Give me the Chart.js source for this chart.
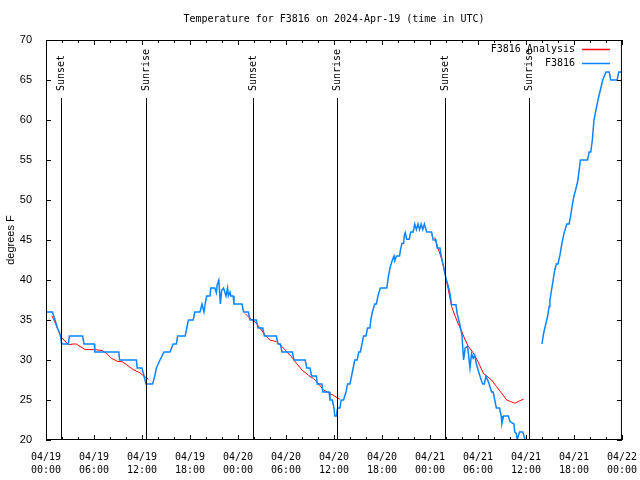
<!DOCTYPE html>
<html>
<head>
<meta charset="utf-8">
<script src="https://cdn.jsdelivr.net/npm/chart.js@4.4.1/dist/chart.umd.min.js"></script>
<style>
  body { margin: 0; background: #fff; }
</style>
</head>
<body>
<canvas id="canvas-chart" width="640" height="480"></canvas>
<script>
// hours since 2024-04-19 00:00 UTC, null = gap
const obsHours = [0, 0.8, 1.0, 1.25, 1.42, 1.67, 1.83, 1.96, 2.8, 2.92, 4.58, 4.75, 6.04, 6.1, 9.1, 9.2, 11.3, 11.4, 12.0, 12.25, 12.5, 13.33,
  13.6, 13.8, 14.25, 14.75, 15.5, 15.9, 16.3, 16.45, 17.4, 17.6, 17.8, 18.4, 18.6, 19.25, 19.5, 19.75, 19.9, 20.08, 20.5, 20.6, 21.1, 21.3, 21.4, 21.6, 21.8, 21.96, 22.2, 22.5, 22.7, 22.8, 23.0, 23.1, 23.4, 23.5,
  24.5, 24.7, 25.3, 25.5, 26.3, 26.5, 27.1, 27.3, 28.8, 29.0, 29.3, 29.5, 30.8, 31.0, 32.4, 32.6, 33.0, 33.2, 33.8, 33.9, 34.5, 34.6, 35.4, 35.5, 35.8, 36.0, 36.1, 36.3,
  36.45, 36.75, 36.9, 37.2, 37.5, 37.7, 38.0, 38.2, 38.4, 38.6, 38.9, 39.1, 39.3, 39.5, 39.7, 40.0, 40.2, 40.5, 40.6, 40.8, 41.1, 41.3, 41.5, 41.8, 42.6, 42.8, 43.0, 43.3, 43.5, 43.6, 43.8, 44.2, 44.3, 44.5, 44.7, 44.8, 44.9, 45.1, 45.4, 45.6, 45.9,
  46.1, 46.3, 46.5, 46.7, 46.9, 47.1, 47.3, 47.5, 47.6, 48.2, 48.4, 48.75, 48.9, 49.25, 49.4, 49.7, 50.0, 50.3, 50.5, 50.7, 51.25, 51.4, 51.7, 52.0, 52.2, 52.4, 52.7, 53.0, 53.2, 53.4, 53.6, 53.8, 54.1, 54.4, 54.6, 54.8, 55.0, 55.2, 55.4, 55.7, 55.9,
  56.1, 56.3, 56.7, 56.9, 57.0, 57.2, 57.8, 58.0, 58.5, 58.6, 58.8, 58.9, 59.2, 59.6, 59.9, 60.0, 61.0,
  62.0, 62.2, 62.5, 62.7, 62.9, 63.0, 63.2, 63.4, 63.6, 63.8, 64.0, 64.25, 64.5, 64.75, 65.1, 65.4, 65.6, 65.8, 66.0, 66.2, 66.5, 66.8, 67.7, 67.9, 68.1, 68.3, 68.5, 68.75, 69.0, 69.3, 69.6, 70.0, 70.4, 70.6, 71.4, 71.6, 72.0];
const obsTemps = [36, 36, 35.4, 34.6, 34, 33.5, 32.9, 32, 32, 33, 33, 32, 32, 31, 31, 30, 30, 29, 29, 28, 27, 27,
  28, 29, 30, 31, 31, 32, 32, 33, 33, 34, 35, 35, 36, 36, 37, 36, 37, 38, 38, 39, 39, 38.4, 39.4, 40, 37, 38.7, 39, 38, 39, 38, 38.5, 38, 38, 37,
  37, 36, 36, 35, 35, 34, 34, 33, 33, 32, 32, 31, 31, 30, 30, 29, 29, 28, 28, 27, 27, 26, 26, 25, 25, 24, 23, 23,
  24, 24, 25, 25, 26, 27, 27, 28, 29, 30, 30, 31, 31, 32, 33, 33, 34, 34, 35, 36, 37, 37, 38, 39, 39, 40.4, 41.5, 42.5, 43, 42.4, 43, 43, 43.7, 44.6, 44.6, 45.6, 45.9, 45.1, 45.1, 46, 46,
  47, 46.3, 47, 46.3, 47, 46.3, 47, 46.3, 46, 46, 45, 45, 44, 44, 43, 41.7, 40.2, 39.2, 38.3, 36.9, 36.9, 35.8, 34.6, 33.1, 30, 31.5, 31.7, 29, 30.8, 30.2, 30.6, 29.5, 28.5, 27.5, 27, 27, 28, 27.5, 27, 26, 26,
  25, 24, 24, 23, 22.1, 23, 23, 22.3, 22, 21, 20.8, 20, 21, 21, 20, 19.5, null,
  32, 33.3, 34.6, 35.4, 36.7, 37.5, 38.75, 40, 41.25, 42, 42, 43.1, 44.6, 45.8, 47, 47, 48.1, 49.4, 50.5, 51.2, 52.5, 55, 55, 56, 56, 57.5, 60, 61.25, 62.5, 63.75, 65, 66, 66, 65, 65, 66, 66];

const anaHours = [0.75, 1.0, 1.25, 1.5, 1.7, 1.96, 2.25, 2.6, 2.9, 3.4, 3.8, 4.25, 4.9, 5.9, 7.0, 7.6, 8.2, 9.0, 9.5, 10.1, 10.9, 11.75, 12.2, 12.8, 18,
  24.9, 25.5, 26.1, 26.75, 27.4, 28.0, 28.8, 29.5, 30.1, 30.7, 31.3, 32.0, 32.8, 33.4, 34.0, 34.7, 35.3, 35.9, 36.7, 42,
  48.6, 49.0, 49.5, 49.9, 50.3, 50.7, 51.1, 51.5, 52.0, 52.4, 52.8, 53.4, 54.0, 54.7, 55.1, 55.7, 56.3, 57.0, 57.6, 58.1, 58.6, 59.2, 59.7];
const anaTemps = [35.5, 35, 34.4, 33.8, 33.3, 32.8, 32.5, 32.1, 31.9, 32, 32, 31.7, 31.3, 31.3, 31.2, 30.8, 30.2, 29.8, 29.8, 29.4, 28.8, 28.4, 28, 27.6, null,
  35.8, 35.2, 34.8, 34, 33.1, 32.5, 32.3, 31.7, 31, 30.4, 29.6, 28.75, 28.1, 27.7, 27.1, 26.25, 25.9, 25.6, 25.1, null,
  45.3, 44, 42.5, 40.6, 38.75, 36.7, 35.6, 34.6, 33.5, 32.5, 31.7, 30.9, 29.8, 28.3, 28, 27.5, 26.7, 25.8, 25, 24.8, 24.6, 24.9, 25.1];

const sunHours = [1.92, 12.54, 25.92, 36.42, 49.92, 60.42];
const sunLabels = ['Sunset', 'Sunrise', 'Sunset', 'Sunrise', 'Sunset', 'Sunrise'];

const tickDays = ['04/19', '04/19', '04/19', '04/19', '04/20', '04/20', '04/20', '04/20', '04/21', '04/21', '04/21', '04/21', '04/22'];
const tickTimes = ['00:00', '06:00', '12:00', '18:00', '00:00', '06:00', '12:00', '18:00', '00:00', '06:00', '12:00', '18:00', '00:00'];

const MONO = '"DejaVu Sans Mono", monospace';
const SANS = '"Liberation Sans", Arial, sans-serif';

function pairs(xs, ys) {
  return xs.map((x, i) => ({ x: x, y: ys[i] }));
}

const gnuplotBits = {
  id: 'gnuplotBits',
  afterDatasetsDraw(chart) {
    const ctx = chart.ctx;
    const a = chart.chartArea;
    const xs = chart.scales.x;
    const ys = chart.scales.y;
    ctx.save();
    ctx.strokeStyle = '#000';
    ctx.lineWidth = 1;

    // sunrise / sunset markers
    ctx.font = '10px ' + MONO;
    ctx.fillStyle = '#000';
    sunHours.forEach((h, i) => {
      const px = Math.round(xs.getPixelForValue(h)) + 0.5;
      ctx.beginPath();
      ctx.moveTo(px, 98);
      ctx.lineTo(px, a.bottom);
      ctx.stroke();
      ctx.save();
      ctx.translate(px, 91);
      ctx.rotate(-Math.PI / 2);
      ctx.textAlign = 'left';
      ctx.textBaseline = 'middle';
      ctx.fillText(sunLabels[i], 0, 0);
      ctx.restore();
    });

    // frame
    ctx.strokeRect(a.left + 0.5, a.top + 0.5, a.right - a.left - 1, a.bottom - a.top - 1);

    // inward ticks, mirrored
    ctx.beginPath();
    for (let h = 0; h <= 72; h += 2) {
      const px = Math.round(xs.getPixelForValue(h)) + 0.5;
      const len = h % 6 === 0 ? 5 : 3;
      ctx.moveTo(px, a.bottom); ctx.lineTo(px, a.bottom - len);
      ctx.moveTo(px, a.top); ctx.lineTo(px, a.top + len);
    }
    for (let v = 20; v <= 70; v += 5) {
      const py = Math.round(ys.getPixelForValue(v)) + 0.5;
      ctx.moveTo(a.left, py); ctx.lineTo(a.left + 5, py);
      ctx.moveTo(a.right, py); ctx.lineTo(a.right - 5, py);
    }
    ctx.stroke();

    // title
    ctx.font = '10px ' + MONO;
    ctx.textAlign = 'center';
    ctx.textBaseline = 'middle';
    ctx.fillText('Temperature for F3816 on 2024-Apr-19 (time in UTC)', (a.left + a.right) / 2, 19);

    // key, gnuplot style: text then line sample
    chart.data.datasets.forEach((ds, i) => {
      const y = 49 + i * 14;
      ctx.textAlign = 'right';
      ctx.fillStyle = '#000';
      ctx.fillText(ds.label, 575, y);
      ctx.strokeStyle = ds.borderColor;
      ctx.lineWidth = 1.5;
      ctx.beginPath();
      ctx.moveTo(582, y + 0.5);
      ctx.lineTo(610, y + 0.5);
      ctx.stroke();
    });
    ctx.restore();
  }
};

const ctx = document.getElementById('canvas-chart');

new Chart(ctx, {
  type: 'line',
  data: {
    datasets: [{
      label: 'F3816 Analysis',
      data: pairs(anaHours, anaTemps),
      borderColor: '#ff0000',
      borderWidth: 1,
      order: 1
    }, {
      label: 'F3816',
      data: pairs(obsHours, obsTemps),
      borderColor: '#0a84ff',
      borderWidth: 1.5,
      order: 0
    }]
  },
  options: {
    responsive: false,
    animation: false,
    spanGaps: false,
    elements: {
      point: { radius: 0 },
      line: { tension: 0 }
    },
    layout: {
      padding: { top: 40, right: 12, left: 0, bottom: 0 }
    },
    scales: {
      x: {
        type: 'linear',
        min: 0,
        max: 72,
        grid: { display: false },
        border: { display: false },
        afterFit(scale) { scale.height = 40; },
        ticks: {
          stepSize: 6,
          autoSkip: false,
          maxRotation: 0,
          padding: 3,
          color: '#000',
          font: { family: MONO, size: 10, lineHeight: 1.3 },
          callback: (v, i) => [tickDays[i], tickTimes[i]]
        }
      },
      y: {
        min: 20,
        max: 70,
        grid: { display: false },
        border: { display: false },
        afterFit(scale) { scale.width = 46; },
        ticks: {
          stepSize: 5,
          padding: 6,
          color: '#000',
          font: { family: SANS, size: 11 }
        },
        title: {
          display: true,
          text: 'degrees F',
          color: '#000',
          padding: { top: 4, bottom: 0 },
          font: { family: SANS, size: 11 }
        }
      }
    },
    plugins: {
      legend: { display: false },
      tooltip: { enabled: false }
    }
  },
  plugins: [gnuplotBits]
});
</script>
</body>
</html>
